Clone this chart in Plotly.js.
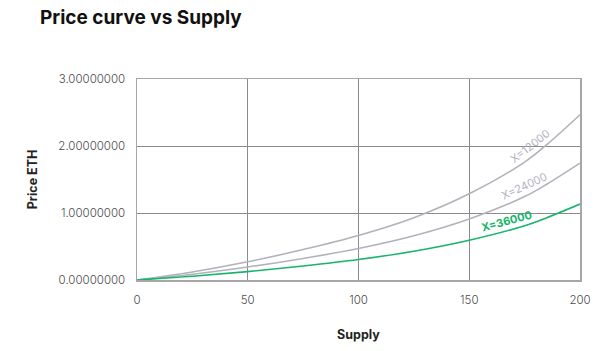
<!DOCTYPE html>
<html>
<head>
<meta charset="utf-8">
<script src="https://cdn.plot.ly/plotly-3.0.1.min.js"></script>
<style>html,body{margin:0;padding:0;background:#fff;}#chart{width:601px;height:351px;}</style>
</head>
<body>
<div id="chart"></div>
<script>
const supply = [0, 25, 50, 75, 100, 125, 150, 175, 185, 200];
const priceX12000 = [0, 0.12, 0.272, 0.455, 0.665, 0.93, 1.287, 1.76, 2.02, 2.466];
const priceX24000 = [0, 0.085, 0.194, 0.322, 0.47, 0.66, 0.91, 1.245, 1.43, 1.744];
const priceX36000 = [0, 0.055, 0.125, 0.209, 0.306, 0.43, 0.594, 0.81, 0.93, 1.134];
const seriesNames = ['X=12000', 'X=24000', 'X=36000'];
const labelPos = [[177.5, 2.0, -38], [174.8, 1.40, -25], [167, 0.875, -15]];
const yTicks = [0, 1, 2, 3];
const xTicks = [0, 50, 100, 150, 200];

const gray = '#b2b2bd';
const green = '#17b56b';
const colors = [gray, gray, green];
const ys = [priceX12000, priceX24000, priceX36000];

const traces = ys.map((y, i) => ({
  x: supply, y: y, type: 'scatter', mode: 'lines', name: seriesNames[i],
  line: {color: colors[i], width: 1.6, shape: 'spline', smoothing: 1},
  hoverinfo: 'skip'
}));

const annotations = seriesNames.map((n, i) => ({
  x: labelPos[i][0], y: labelPos[i][1], xref: 'x', yref: 'y',
  text: n, showarrow: false, textangle: labelPos[i][2],
  xanchor: 'center', yanchor: 'middle',
  font: {family: 'Inter, sans-serif', size: 11, color: colors[i], weight: i === 2 ? 700 : 400}
}));

const layout = {
  width: 601, height: 351,
  margin: {l: 137, r: 21, t: 79, b: 71},
  paper_bgcolor: '#fff', plot_bgcolor: '#fff',
  showlegend: false,
  title: {text: 'Price curve vs Supply', x: 0, xref: 'container', xanchor: 'left', y: 1, yref: 'container', yanchor: 'top',
          pad: {t: 11, l: 40},
          font: {family: 'Inter, sans-serif', size: 19, color: '#111', weight: 700}},
  xaxis: {
    range: [0, 200], tickvals: xTicks, ticktext: xTicks.map(String),
    showgrid: true, gridcolor: '#8c8c8c', gridwidth: 1,
    showline: true, linecolor: '#a6a6a6', linewidth: 1.5, mirror: true,
    zeroline: false, ticks: 'outside', ticklen: 9, tickcolor: 'rgba(0,0,0,0)',
    tickfont: {family: 'Inter, sans-serif', size: 11.5, color: '#4a4a4a', weight: 300},
    title: {text: 'Supply', standoff: 24, font: {family: 'Inter, sans-serif', size: 12.5, color: '#222', weight: 700}}
  },
  yaxis: {
    range: [0, 3], tickvals: yTicks, tickformat: '.8f',
    showgrid: true, gridcolor: '#8c8c8c', gridwidth: 1,
    showline: true, linecolor: '#a6a6a6', linewidth: 1.5, mirror: true,
    zeroline: false, ticks: 'outside', ticklen: 8, tickcolor: 'rgba(0,0,0,0)',
    tickfont: {family: 'Inter, sans-serif', size: 11.5, color: '#4a4a4a', weight: 300},
    title: {text: 'Price ETH', standoff: 18, font: {family: 'Inter, sans-serif', size: 12.5, color: '#222', weight: 700}}
  },
  annotations: annotations
};

Plotly.newPlot('chart', traces, layout, {displayModeBar: false, staticPlot: true});
</script>
</body>
</html>
